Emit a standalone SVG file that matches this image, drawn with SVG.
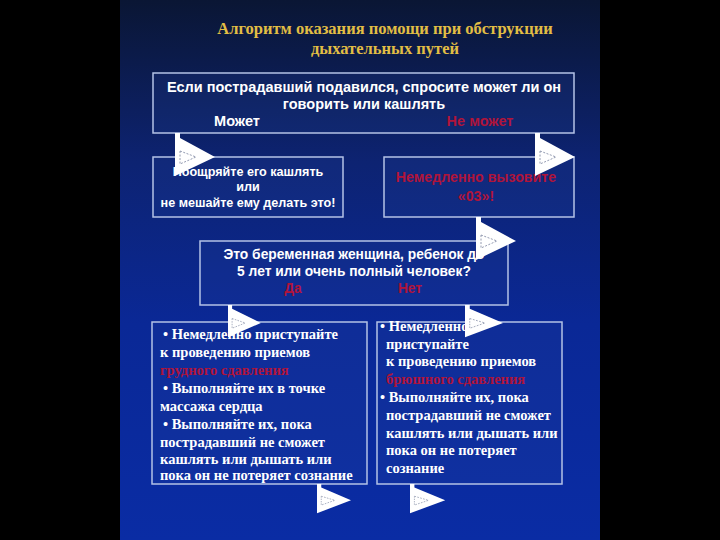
<svg xmlns="http://www.w3.org/2000/svg" width="720" height="540" viewBox="0 0 720 540">
<defs>
<linearGradient id="bg" x1="0" y1="0" x2="0" y2="1">
<stop offset="0" stop-color="#0a1634"/>
<stop offset="0.3" stop-color="#0d2372"/>
<stop offset="0.6" stop-color="#0a2896"/>
<stop offset="1" stop-color="#0a2ca4"/>
</linearGradient>
<g id="arrow">
<polygon points="0,0 5,0 5,5 40,24 0,43" fill="#ffffff"/>
<polygon points="5,18 21,24 5,31" fill="none" stroke="#8890a8" stroke-width="0.9" stroke-dasharray="2,1.5"/>
</g>
<style>
.box{fill:rgba(40,70,160,0.18);stroke:#b4c2e6;stroke-width:1.5}
.sans{font-family:"Liberation Sans",Arial,sans-serif;font-weight:bold;fill:#ffffff}
.serif{font-family:"Liberation Serif","Times New Roman",serif;font-weight:bold;fill:#ffffff;font-size:14.5px}
.red{fill:#b0143a}
.title{font-family:"Liberation Serif","Times New Roman",serif;font-weight:bold;fill:#e2be44;font-size:16.5px}
</style>
</defs>
<rect x="0" y="0" width="720" height="540" fill="#000000"/>
<rect x="120" y="0" width="480" height="540" fill="url(#bg)"/>

<g id="title">
<text class="title" x="385" y="34" text-anchor="middle">Алгоритм оказания помощи при обструкции</text>
<text class="title" x="385" y="54" text-anchor="middle">дыхательных путей</text>
</g>

<g id="node-question1">
<rect class="box" x="153" y="73" width="421" height="60"/>
<text class="sans" font-size="14.5" x="364" y="92" text-anchor="middle">Если пострадавший подавился, спросите может ли он</text>
<text class="sans" font-size="14.5" x="364" y="109" text-anchor="middle">говорить или кашлять</text>
<text class="sans" font-size="14.5" x="237" y="126" text-anchor="middle">Может</text>
<text class="sans red" font-size="14.5" x="480" y="126" text-anchor="middle">Не может</text>
</g>

<g id="node-cough">
<rect class="box" x="153" y="157" width="190" height="60"/>
<text class="sans" font-size="12.6" x="248" y="176" text-anchor="middle">Поощряйте его кашлять</text>
<text class="sans" font-size="12.6" x="248" y="191" text-anchor="middle">или</text>
<text class="sans" font-size="12.6" x="248" y="207" text-anchor="middle">не мешайте ему делать это!</text>
</g>

<g id="node-call">
<rect class="box" x="384" y="157" width="190" height="60"/>
<text class="sans red" font-size="14.2" x="476" y="182" text-anchor="middle">Немедленно вызовите</text>
<text class="sans red" font-size="14.2" x="476" y="201" text-anchor="middle">«03»!</text>
</g>

<g id="node-question2">
<rect class="box" x="200" y="241" width="308" height="64"/>
<text class="sans" font-size="13.8" x="354" y="259" text-anchor="middle">Это беременная женщина, ребенок до</text>
<text class="sans" font-size="13.8" x="354" y="276" text-anchor="middle">5 лет или очень полный человек?</text>
<text class="sans red" font-size="13.8" x="293" y="293" text-anchor="middle">Да</text>
<text class="sans red" font-size="13.8" x="410" y="293" text-anchor="middle">Нет</text>
</g>

<g id="node-chest">
<rect class="box" x="152" y="322" width="215" height="162"/>
<text class="serif" x="163" y="339">•  Немедленно приступайте</text>
<text class="serif" x="160" y="357">к проведению приемов</text>
<text class="serif red" x="160" y="375">грудного сдавления</text>
<text class="serif" x="163" y="393">•  Выполняйте их в точке</text>
<text class="serif" x="160" y="411">массажа сердца</text>
<text class="serif" x="163" y="429">•  Выполняйте их, пока</text>
<text class="serif" x="160" y="447">пострадавший не сможет</text>
<text class="serif" x="160" y="464">кашлять или дышать или</text>
<text class="serif" x="160" y="480">пока он не потеряет сознание</text>
</g>

<g id="node-abdominal">
<rect class="box" x="377" y="322" width="185" height="162"/>
<text class="serif" x="380" y="331">• Немедленно</text>
<text class="serif" x="386" y="349">приступайте</text>
<text class="serif" x="386" y="366">к проведению приемов</text>
<text class="serif red" x="386" y="384">брюшного сдавления</text>
<text class="serif" x="380" y="402">• Выполняйте их, пока</text>
<text class="serif" x="386" y="420">пострадавший не сможет</text>
<text class="serif" x="386" y="438">кашлять или дышать или</text>
<text class="serif" x="386" y="455">пока он не потеряет</text>
<text class="serif" x="386" y="473">сознание</text>
</g>

<g id="connectors">
<use href="#arrow" transform="translate(175,133)"/>
<use href="#arrow" transform="translate(535,133)"/>
<use href="#arrow" transform="translate(476,217)"/>
<use href="#arrow" transform="translate(228,305) scale(0.82,0.75)"/>
<use href="#arrow" transform="translate(465,305) scale(0.95,0.75)"/>
<use href="#arrow" transform="translate(317,484) scale(0.85,0.68)"/>
<use href="#arrow" transform="translate(410,484) scale(0.88,0.68)"/>
</g>
</svg>
